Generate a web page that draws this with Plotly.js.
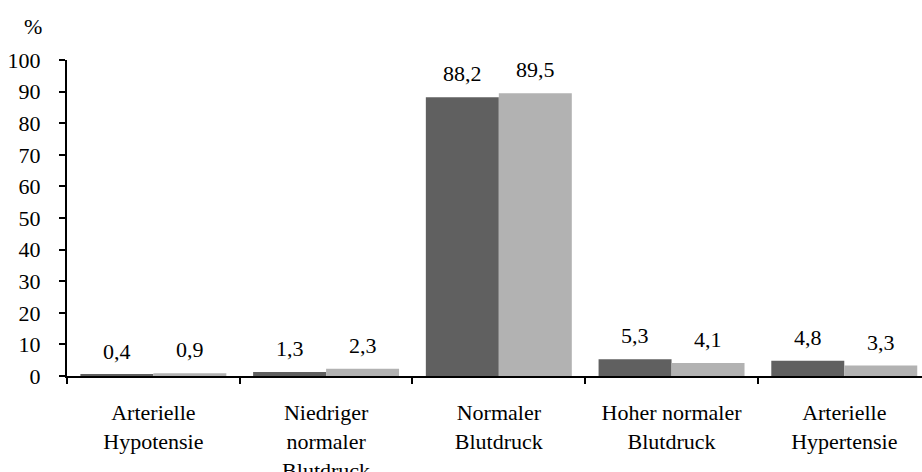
<!DOCTYPE html>
<html>
<head>
<meta charset="utf-8">
<script src="https://cdn.plot.ly/plotly-3.0.1.min.js"></script>
</head>
<body style="margin:0">
<div id="chart" style="width:922px;height:472px"></div>
<script>
// Blutdruckkategorien und Anteile (%) der beiden Gruppen
const categories = [
  'Arterielle<br>Hypotensie',
  'Niedriger<br>normaler<br>Blutdruck',
  'Normaler<br>Blutdruck',
  'Hoher normaler<br>Blutdruck',
  'Arterielle<br>Hypertensie'
];
const groupA = [0.4, 1.3, 88.2, 5.3, 4.8];
const groupB = [0.9, 2.3, 89.5, 4.1, 3.3];
const yTicks = [0, 10, 20, 30, 40, 50, 60, 70, 80, 90, 100];

const serifFont = 'Liberation Serif';
const toLabel = v => v.toFixed(1).replace('.', ',');

const barTraces = [
  { type: 'bar', name: 'Gruppe A', x: categories, y: groupA,
    marker: { color: '#606060' }, hoverinfo: 'skip' },
  { type: 'bar', name: 'Gruppe B', x: categories, y: groupB,
    marker: { color: '#b2b2b2' }, hoverinfo: 'skip' }
];

// Wertebeschriftungen über den Balken
const valueLabels = [];
[groupA, groupB].forEach((series, s) => {
  series.forEach((v, i) => {
    valueLabels.push({
      x: categories[i], y: v, xref: 'x', yref: 'y',
      xshift: s === 0 ? -36.5 : 36.5, yshift: 9,
      text: toLabel(v), showarrow: false, yanchor: 'bottom',
      font: { family: serifFont, size: 22, color: '#000' }
    });
  });
});
// Einheit über der y-Achse
valueLabels.push({
  xref: 'paper', yref: 'paper', x: -0.027, y: 1.0, yshift: 34,
  xanchor: 'right', yanchor: 'middle', text: '%', showarrow: false,
  font: { family: serifFont, size: 22, color: '#000' }
});

Plotly.newPlot('chart', barTraces, {
  width: 922, height: 472,
  margin: { l: 67, r: 0, t: 60, b: 96 },
  paper_bgcolor: '#fff', plot_bgcolor: '#fff',
  font: { family: serifFont, size: 22, color: '#000' },
  barmode: 'group', bargap: 0.155, bargroupgap: 0,
  showlegend: false,
  xaxis: {
    type: 'category', range: [-0.5, 4.45],
    showline: true, linecolor: '#000', linewidth: 2,
    ticks: 'outside', tickson: 'boundaries', ticklen: 6, tickwidth: 2, tickcolor: '#000',
    ticklabelstandoff: 16,
    showgrid: false, zeroline: false,
    tickfont: { family: serifFont, size: 22, color: '#000' }
  },
  yaxis: {
    range: [0, 100], tickvals: yTicks, ticktext: yTicks.map(String),
    showline: true, linecolor: '#000', linewidth: 2,
    ticks: 'outside', ticklen: 6, tickwidth: 2, tickcolor: '#000',
    ticklabelstandoff: 14,
    showgrid: false, zeroline: false,
    tickfont: { family: serifFont, size: 22, color: '#000' }
  },
  annotations: valueLabels
}, { displayModeBar: false });
</script>
</body>
</html>
